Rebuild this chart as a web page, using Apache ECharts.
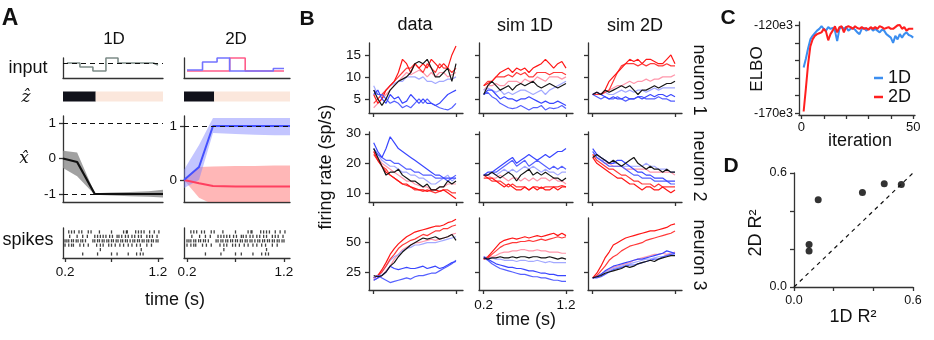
<!DOCTYPE html>
<html>
<head>
<meta charset="utf-8">
<script src="https://cdn.jsdelivr.net/npm/echarts@6/dist/echarts.min.js"></script>
<style>html,body{margin:0;background:#fff}#chart{width:934px;height:340px}</style>
</head>
<body>
<div id="chart"></div>
<script>
// ---------- panel A data ----------
const input1D_t = [0.22, 0.36, 0.50, 0.64, 0.77, 1.15, 1.20];
const input1D = [0, -0.4, -0.8, 0.5, 0, -0.2, -0.2];
const input2DBlue_t = [0.20, 0.36, 0.51, 0.64, 1.09, 1.20];
const input2DBlue = [0.1, 0.9, 1.3, 0, 0.25, 0.25];
const input2DRed_t = [0.20, 0.64, 0.80, 1.20];
const input2DRed = [0, 1.3, 0, 0];
const zSwitch1D = 0.53;
const zSwitch2D = 0.48;

const xhat1D_t = [0.178, 0.33, 0.52, 0.70, 0.90, 1.10, 1.254];
const xhat1D = [0, -0.1, -1, -1, -1, -1, -1];
const xhat1D_lo = [-0.27, -0.5, -1.02, -1.04, -1.06, -1.08, -1.1];
const xhat1D_hi = [0.22, 0.17, -0.98, -0.96, -0.94, -0.92, -0.88];
const xhat2D_t = [0.169, 0.324, 0.468, 0.70, 0.90, 1.10, 1.262];
const xhat2DBlue = [0, 0.24, 1, 1, 1, 1, 1];
const xhat2DBlue_lo = [-0.15, 0.0, 0.87, 0.85, 0.84, 0.83, 0.83];
const xhat2DBlue_hi = [0.19, 0.65, 1.15, 1.15, 1.15, 1.15, 1.15];
const xhat2DRed = [0, -0.06, -0.11, -0.12, -0.12, -0.12, -0.12];
const xhat2DRed_lo = [0, -0.33, -0.45, -0.45, -0.45, -0.45, -0.45];
const xhat2DRed_hi = [0, 0.24, 0.25, 0.26, 0.26, 0.27, 0.27];

// spike raster, one array per trial row (top to bottom), times in s
const spikeRows = [
  [0.24,0.27,0.30,0.35,0.38,0.45,0.48,0.57,0.70,0.83,0.86,0.87,0.96,0.99,1.02,1.05,1.11,1.16,1.21],
  [0.25,0.33,0.39,0.44,0.52,0.55,0.58,0.61,0.64,0.68,0.71,0.76,0.78,0.81,0.85,0.88,0.92,0.95,0.99,1.02,1.08,1.11,1.14,1.19],
  [0.20,0.22,0.24,0.27,0.29,0.32,0.34,0.37,0.39,0.42,0.50,0.52,0.55,0.57,0.60,0.62,0.65,0.67,0.70,0.72,0.75,0.77,0.80,0.82,0.85,0.87,0.90,0.93,0.95,0.98,1.00,1.03,1.05,1.08,1.10,1.13,1.15,1.18,1.20],
  [0.20,0.24,0.27,0.29,0.36,0.40,0.45,0.54,0.58,0.61,0.67,0.70,0.74,0.79,0.83,0.88,0.92,0.97,1.01,1.08,1.13],
  [0.58,1.02],
  [0.39,0.55,0.70,0.76,0.88,0.97,1.01,1.04]
];

// ---------- panel B data (firing rates, sp/s) ----------
const tB = [0.20,0.25,0.30,0.35,0.40,0.45,0.50,0.55,0.60,0.65,0.70,0.75,0.80,0.85,0.90,0.95,1.00,1.05,1.10,1.15,1.20];

const dataN1 = {
  pink:  [3,4,5,6,7,8,9,10,11,10.5,11,11.5,11,10,11,10,11,11,10,10.5,11],
  lav:   [8,6,6,7,8,8.5,9,9,10,10,10,9.5,10,9,9,8.5,9,9,9.5,9.5,10],
  red2:  [4,5,6,7,8,9,10,11,12,12,13,12,11,13,12,11,13,12,12,11,12],
  red1:  [6,4,5,7,8,9,11,14,13,11,13,12,13,12,14,13,12,13,12,15,17],
  blue2: [7,6,6,5,4,4.5,4,3,3.5,3,4,5,4,5,4,3.5,3,2.7,2.5,3,4],
  blue1: [6,7,5,4,6,5,5.5,4,4.5,6,5,4,5,4,4,3.5,4,5,6,6.5,7],
  black: [7,5,3.5,5,7,8,9,9.5,10,11,13,13.5,13,14,12,10,10,11,12,9,13]
};
const sim1DN1 = {
  pink:  [7,8,8,8.5,8,8,9,9,9,8.5,9.5,9,9,10,9.5,9,10,10,10,9.5,10],
  lav:   [7,7.5,7,6.5,7,6,6.5,6,6.5,7,7,6.5,6,6.5,7,6,7,7.5,8,8.5,9],
  red2:  [8,9,9,10,10,10,10.5,10,11,10.5,11,10,10,11,11,11,10.5,11,11,11,10.5],
  red1:  [8,8.5,9,10,11,11.5,12,11,12,11.5,12,11,12,12.5,13,14,13,12,13,13.5,12],
  blue2: [6,6.5,5.5,5,4,3.5,3,2.8,3,3.5,3,2.5,3,3,3.5,2.5,3,2.8,3,3.5,2.8],
  blue1: [6,7,7,6,5,5.5,5,5,4.5,5,5,5.5,5,4.5,4,4.5,4,4,4.5,4,3.5],
  black: [6,8,9,8,7,7.5,8,7,8,8.5,8,8.5,9,8,7.5,8,8.5,8,7.5,8,8.5]
};
const sim2DN1 = {
  pink:  [6,6,6,6.5,7,7.5,8,8,8.5,9,8.5,9,9,9.5,9,9.5,9.5,10,10,10,10.5],
  lav:   [6,6,6,6.5,6,6,6.5,7,6.5,7,6.5,7,7,6.5,7,7.5,7,7.5,7.5,7.5,7.5],
  red2:  [6,6,6,6.5,7,9,11,12.5,13,13,13,12.5,13,12.5,13,13,12.5,12.5,13,12.5,12.5],
  red1:  [6,6.5,6,7,9,10,11,12,13,14,13.5,14,13,14,14,13.5,13,13,14,15,13],
  blue2: [6,5.5,5,5.5,5,5,5.5,5,4.5,5,5,5.5,5.5,5,5,5,5.5,5,5,4.5,4.5],
  blue1: [6,6.5,6,5.5,5,5.5,5,5,5.5,5,5,5.5,5,5.5,6,5.5,6,6,5.5,6,5.5],
  black: [6,6.5,6,7,6.5,7,7.5,8,7.5,8,7,6,7,7,7.5,8,7.5,8,8.5,8.5,9]
};
const dataN2 = {
  pink:  [24,22,20,19,18,17,16,15,14,14,13,12.5,12,12,11,11,12,12,13,13,13],
  lav:   [25,23,21,20,19,19,18,17,17,16,16,15,15,14,13,13,14,15,16,14,15],
  red2:  [23,21,19,18,16,15,14,13,12.5,12,11,11,10.5,11,10.5,10,10.5,11,11,10,10],
  red1:  [24,21,19,17,16,15,14,13,13,12,11.5,11,11,10.5,11,11,10.5,11,10,9,8],
  blue2: [25,23,22,21,21,20,20,19,18,18,17,17,16,16,16,15,15,15,14,15,16],
  blue1: [27,24,22,25,29,27,25,24,23,22,21,20,19,18,17,16,16,15,15,15,15],
  black: [25,22,19,16,17,17,18,16,15,14,14,13,12,13,11,11,12,12,14,13,14]
};
const sim1DN2 = {
  pink:  [16,16,15,15,16,15,14,15,15,14,15,14,15,14,15,15,14,15,14,14,13],
  lav:   [16,16,17,16,17,18,17,18,17,18,19,18,19,18,17,18,17,17,16,17,17],
  red2:  [15,15,14,14,14,13,12,13,12,12,12,11,12,12,11.5,12,12,12,12,12.5,12],
  red1:  [16,15,15,14,13,12,13,12,11,11,12,11,12,11,12,11,11,12,11,12,12],
  blue2: [16,16,17,17,18,19,20,21,19,20,21,19,20,21,20,19,18,19,18,19,18],
  blue1: [16,17,17,18,19,20,21,22,20,21,22,23,22,21,22,23,22,23,24,24,25],
  black: [16,16,17,16,15,16,17,16,14,16,17,18,16,17,16,17,16,15,15,14,15]
};
const sim2DN2 = {
  pink:  [23,22,21,20,20,19,19,19,18,18,18,18,18,18,17,17,17,17,17,17,16],
  lav:   [24,22,21,21,20,20,20,19,19,19,19,19,19,20,19,19,18,18,18,17,17],
  red2:  [23,21,20,19,18,18,17,16,16,15,14,14,13,13,13,12,13,12,12,12,12],
  red1:  [22,20,19,18,17,16,15,15,14,13,13,12,11,12,12,11,11,12,11,10,11],
  blue2: [24,22,21,20,19,19,19,19,18,17,16,16,15,15,15,14,14,14,14,13,13],
  blue1: [25,23,22,21,20,20,21,21,20,19,18,17,17,16,16,15,15,15,14,14,14],
  black: [22,23,22,21,20,21,20,19,20,21,22,20,19,18,19,18,18,17,18,17,17]
};
const dataN3 = {
  pink:  [18,20,22,26,30,36,40,44,46,48,50,50,51,52,53,52,53,54,55,57,58],
  lav:   [18,20,25,30,35,38,40,43,45,46,48,48,49,50,50,50,51,52,53,54,55],
  red2:  [20,22,25,30,36,40,45,48,50,52,53,55,57,56,58,60,60,62,62,64,65],
  red1:  [20,22,27,33,40,45,49,52,55,57,59,60,61,62,63,64,64,65,67,68,70],
  blue2: [20,22,20,18,16,17,18,19,20,19,21,22,22,23,24,24,26,28,30,32,35],
  blue1: [18,20,22,25,30,28,27,28,29,28,28,29,30,28,29,30,28,29,31,33,34],
  black: [22,21,22,25,30,33,38,42,45,48,50,52,54,53,54,55,53,54,55,57,52]
};
const sim1DN3 = {
  pink:  [36,37,38,39,41,42,42,43,43,44,44,43,43,44,43,43,42,42,42,41,41],
  lav:   [38,37,37,36,36,35,35,35,34,35,35,34,34,35,34,33,34,33,33,33,33],
  red2:  [36,37,40,43,46,48,49,50,50,51,51,52,51,52,53,52,53,54,55,54,55],
  red1:  [36,38,42,46,50,52,53,54,53,54,55,54,55,56,55,56,57,58,56,58,56],
  blue2: [37,35,32,30,28,27,26,25,24,23,23,22,21,21,20,20,19,18,18,17,17],
  blue1: [38,36,34,32,31,30,29,29,28,28,27,26,26,25,24,24,23,23,22,22,22],
  black: [37,36,37,37,38,37,37,38,37,38,38,37,38,38,37,37,38,37,36,37,36]
};
const sim2DN3 = {
  pink:  [20,21,23,25,27,29,30,31,32,33,35,36,37,38,39,40,40,41,40,41,42],
  lav:   [20,21,23,25,26,28,29,30,31,32,33,34,35,36,36,37,38,38,39,40,40],
  red2:  [20,22,26,30,35,38,40,43,45,47,48,49,50,52,53,54,55,56,57,58,60],
  red1:  [20,24,30,37,42,48,50,52,54,55,56,57,58,59,60,60,61,62,63,65,66],
  blue2: [20,20,21,23,25,27,28,29,30,31,31,32,33,34,35,36,36,38,39,40,41],
  blue1: [20,21,23,26,28,30,31,32,33,34,35,36,36,37,38,39,40,41,43,42,41],
  black: [20,21,22,24,25,26,27,28,30,29,30,32,33,34,35,34,36,37,38,39,39]
};

// ---------- panel C data (ELBO, x1e3) ----------
const elbo1D = [-144,-139,-133,-128,-126,-124.5,-123,-122,-120.5,-122,-123,-121,-122,-121.5,-123,-129,-122,-121,-122,-121,
  -123,-122,-121.5,-122.5,-124,-125,-122,-121.5,-123,-122,-121.5,-123,-122,-123,-124,-122.5,-123,-125,-126,-127,
  -130,-126,-128,-125,-127,-125,-124,-125.5,-126,-127];
const elbo2D = [-169,-156,-142,-132,-128,-126,-125,-124.5,-124,-122,-123.5,-128.5,-125,-123,-120.5,-124,-121,-120.5,-124,-121,
  -120.5,-121,-122,-120.5,-121.5,-122,-121,-122,-121.5,-122.5,-121,-122,-121,-122,-120.5,-121,-122,-121.5,-121,-122,
  -122,-121,-120,-119.8,-122,-121,-123,-122,-122,-122];

// ---------- panel D data (R^2) ----------
const r2_1D = [0.076, 0.076, 0.122, 0.345, 0.455, 0.541];
const r2_2D = [0.224, 0.190, 0.459, 0.498, 0.544, 0.540];

// ---------- build ----------
const FONT = 'Liberation Sans';
const INK = '#111';
const AXC = '#333';
const grids = [], xAxes = [], yAxes = [], series = [];

function axis(gi, min, max, o) {
  o = o || {};
  return {
    type: 'value', gridIndex: gi, min, max, show: o.show !== false,
    axisLine: { show: o.line !== false, onZero: false, lineStyle: { color: AXC, width: 1.3 } },
    axisTick: o.ticks ? { show: true, customValues: o.ticks, length: 4, lineStyle: { color: AXC, width: 1.3 } } : { show: false },
    axisLabel: o.labels ? { show: true, customValues: o.labels, formatter: o.fmt || (v => String(v)),
      fontSize: o.fs || 13.5, fontFamily: FONT, color: INK, margin: o.margin || 7 } : { show: false },
    splitLine: { show: false }
  };
}
function grid(box, xa, ya) {
  const gi = grids.length;
  grids.push(Object.assign({}, box));
  xAxes.push(axis(gi, xa[0], xa[1], xa[2]));
  yAxes.push(axis(gi, ya[0], ya[1], ya[2]));
  return gi;
}
function line(gi, pts, color, width, extra) {
  series.push(Object.assign({ type: 'line', xAxisIndex: gi, yAxisIndex: gi, data: pts, symbol: 'none',
    lineStyle: { color, width }, itemStyle: { color }, silent: true }, extra || {}));
}
// shaded interval between lo and hi, drawn as one polygon through the axes' scales
function band(gi, t, lo, hi, color, opacity) {
  series.push({
    type: 'custom', xAxisIndex: gi, yAxisIndex: gi, silent: true, data: [[t[0], lo[0]]],
    renderItem: (params, api) => {
      const top = t.map((x, i) => api.coord([x, hi[i]]));
      const bot = t.map((x, i) => api.coord([x, lo[i]])).reverse();
      const cs = params.coordSys;
      return {
        type: 'polygon', shape: { points: top.concat(bot) },
        style: { fill: color, opacity },
        clipPath: { type: 'rect', shape: { x: cs.x, y: cs.y, width: cs.width, height: cs.height } }
      };
    }
  });
}
const zip = (a, b) => a.map((x, i) => [x, b[i]]);
const dashed = v => ({ silent: true, symbol: 'none', label: { show: false },
  lineStyle: { type: [5, 4], color: INK, width: 1.2 }, data: v.map(y => ({ yAxis: y })) });

// A columns: [left, width, tmin, tmax]
const colA = [[63, 100, 0.178, 1.254], [184, 106, 0.169, 1.262]];
const t01 = v => v.toFixed(1);

// input
let g = grid({ left: 63, top: 58, width: 100, height: 20 }, [0.178, 1.254, {}], [-1.5, 0.5, {}]);
line(g, zip(input1D_t, input1D), '#7d8c88', 1.6, { step: 'end', markLine: dashed([0]), clip: false });
g = grid({ left: 184, top: 58, width: 106, height: 20 }, [0.169, 1.262, {}], [-0.7, 1.3, {}]);
line(g, zip(input2DRed_t, input2DRed), '#ff5c8a', 1.6, { step: 'end', clip: false });
line(g, zip(input2DBlue_t, input2DBlue), '#7373ff', 1.6, { step: 'end', clip: false });

// z-hat state bars
[[colA[0], zSwitch1D], [colA[1], zSwitch2D]].forEach(([c, sw]) => {
  const gi = grid({ left: c[0], top: 91, width: c[1], height: 11 }, [c[2], c[3], { show: false }], [-1, 1, { show: false }]);
  line(gi, [[c[2], 0], [sw, 0]], '#10111a', 10);
  line(gi, [[sw, 0], [c[3], 0]], '#fbe7dc', 10);
});

// x-hat
g = grid({ left: 63, top: 116, width: 100, height: 86 }, [0.178, 1.254, {}],
  [-1.225, 1.197, { ticks: [-1, 0, 1], labels: [-1, 0, 1] }]);
band(g, xhat1D_t, xhat1D_lo, xhat1D_hi, '#8a8a8a', 0.8);
line(g, zip(xhat1D_t, xhat1D), '#111', 2.2, { markLine: dashed([1, -1]) });
g = grid({ left: 184, top: 116, width: 106, height: 86 }, [0.169, 1.262, {}],
  [-0.407, 1.185, { ticks: [0, 1], labels: [0, 1] }]);
band(g, xhat2D_t, xhat2DRed_lo, xhat2DRed_hi, '#ff7070', 0.5);
band(g, xhat2D_t, xhat2DBlue_lo, xhat2DBlue_hi, '#7a7eff', 0.45);
line(g, zip(xhat2D_t, xhat2DRed), '#ff4060', 2, { markLine: dashed([1]) });
line(g, zip(xhat2D_t, xhat2DBlue), '#4450ff', 2);

// spikes
const spikePts = [];
spikeRows.forEach((row, r) => row.forEach(t => spikePts.push([t, 6 - r])));
colA.forEach(c => {
  const gi = grid({ left: c[0], top: 228, width: c[1], height: 30 },
    [c[2], c[3], { ticks: [0.2, 0.7, 1.2], labels: [0.2, 1.2], fmt: t01, margin: 7 }], [0.09, 6.9, {}]);
  series.push({ type: 'scatter', xAxisIndex: gi, yAxisIndex: gi, data: spikePts, symbol: 'rect',
    symbolSize: [1.3, 3.2], itemStyle: { color: INK }, silent: true });
});

// panel B
const bCols = [369, 479, 588];
const bRows = [
  { top: 43, height: 70, min: 1.8, max: 17.7, ticks: [5, 10, 15] },
  { top: 132, height: 70, min: 6.9, max: 30.6, ticks: [10, 20, 30] },
  { top: 218, height: 72, min: 9.7, max: 71, ticks: [25, 50] }
];
const bPanels = [[dataN1, sim1DN1, sim2DN1], [dataN2, sim1DN2, sim2DN2], [dataN3, sim1DN3, sim2DN3]];
const traceOrder = ['pink', 'lav', 'red2', 'red1', 'blue2', 'blue1', 'black'];
const traceColor = { pink: '#ff97ab', lav: '#a3a9ff', red2: '#ff3a3a', red1: '#ff1616', blue2: '#5560ff', blue1: '#3a47ff', black: '#161616' };
bRows.forEach((row, r) => bCols.forEach((left, c) => {
  const xo = { ticks: [0.2, 1.2] };
  if (r === 2 && c === 1) Object.assign(xo, { labels: [0.2, 1.2], fmt: t01, margin: 8 });
  const yo = { ticks: row.ticks };
  if (c === 0) Object.assign(yo, { labels: row.ticks, margin: 8 });
  const gi = grid({ left, top: row.top, width: 94, height: row.height }, [0.143, 1.285, xo], [row.min, row.max, yo]);
  const p = bPanels[r][c];
  traceOrder.forEach(k => line(gi, zip(tB, p[k]), traceColor[k], 1.2));
}));

// panel C
const iters = elbo1D.map((_, i) => i + 1);
g = grid({ left: 799, top: 22, width: 116, height: 93 },
  [-1.07, 50.8, { ticks: [0, 10, 20, 30, 40, 50], labels: [0, 50], fs: 13, margin: 6 }],
  [-171, -118.1, { ticks: [-170, -160, -150, -140, -130, -120], labels: [-170, -120], fmt: v => v + 'e3', fs: 12.5, margin: 6 }]);
line(g, zip(iters, elbo1D), '#3b8ef0', 2, { name: '1D' });
line(g, zip(iters, elbo2D), '#ff1f1f', 2, { name: '2D' });

// panel D
g = grid({ left: 794, top: 173, width: 119, height: 114 },
  [0, 0.6, { ticks: [0, 0.2, 0.4, 0.6], labels: [0, 0.6], fmt: t01, fs: 12.5, margin: 7 }],
  [0, 0.6, { ticks: [0, 0.2, 0.4, 0.6], labels: [0, 0.6], fmt: t01, fs: 12.5, margin: 7 }]);
line(g, [[0, 0], [0.6, 0.6]], '#111', 1.2, { lineStyle: { color: '#111', width: 1.2, type: [4, 4] } });
series.push({ type: 'scatter', xAxisIndex: g, yAxisIndex: g, data: zip(r2_1D, r2_2D), symbolSize: 7,
  itemStyle: { color: '#000' }, silent: true });

// texts
const texts = [
  ['A', 10, 19, 23, 0, true], ['B', 307, 19, 21, 0, true], ['C', 728, 18, 21, 0, true], ['D', 731, 166, 21, 0, true],
  ['1D', 114, 39, 17], ['2D', 236, 39, 17],
  ['input', 28, 68, 18], ['spikes', 28, 240, 18], ['time (s)', 175, 300, 18],
  ['data', 415, 25.5, 18], ['sim 1D', 525, 26.5, 18], ['sim 2D', 635, 26.5, 18],
  ['firing rate (sp/s)', 326, 167, 18, Math.PI / 2],
  ['neuron 1', 699, 80, 18, -Math.PI / 2], ['neuron 2', 699, 166, 18, -Math.PI / 2], ['neuron 3', 699, 255, 18, -Math.PI / 2],
  ['time (s)', 526, 320, 18],
  ['ELBO', 757, 69, 17, Math.PI / 2], ['iteration', 860, 141, 18],
  ['2D R\u00b2', 756, 233, 18, Math.PI / 2], ['1D R\u00b2', 853, 317, 18]
];
const graphic = texts.map(([text, x, y, size, rot, bold]) => ({
  type: 'text', x, y, rotation: rot || 0, silent: true,
  style: { text, fontSize: size, fontWeight: bold ? 'bold' : 'normal', fontFamily: FONT, fill: INK, align: 'center', verticalAlign: 'middle' }
}));
graphic.push({ type: 'text', x: 26, y: 98, silent: true,
  style: { text: '\u1e91', fontSize: 17, fontStyle: 'italic', fontFamily: 'DejaVu Serif', fill: INK, align: 'center', verticalAlign: 'middle' } });
graphic.push({ type: 'text', x: 24, y: 159, silent: true,
  style: { text: 'x\u0302', fontSize: 17, fontStyle: 'italic', fontFamily: 'DejaVu Serif', fill: INK, align: 'center', verticalAlign: 'middle' } });

const chart = echarts.init(document.getElementById('chart'), null, { renderer: 'canvas' });
chart.setOption({
  animation: false,
  backgroundColor: '#fff',
  textStyle: { fontFamily: FONT },
  grid: grids, xAxis: xAxes, yAxis: yAxes, series,
  legend: { data: ['1D', '2D'], orient: 'vertical', left: 874, top: 69, itemWidth: 9, itemHeight: 2.5, itemGap: 1,
    icon: 'rect', padding: 0, selectedMode: false, textStyle: { fontSize: 18, color: INK, fontFamily: FONT } },
  graphic
});
</script>
</body>
</html>
